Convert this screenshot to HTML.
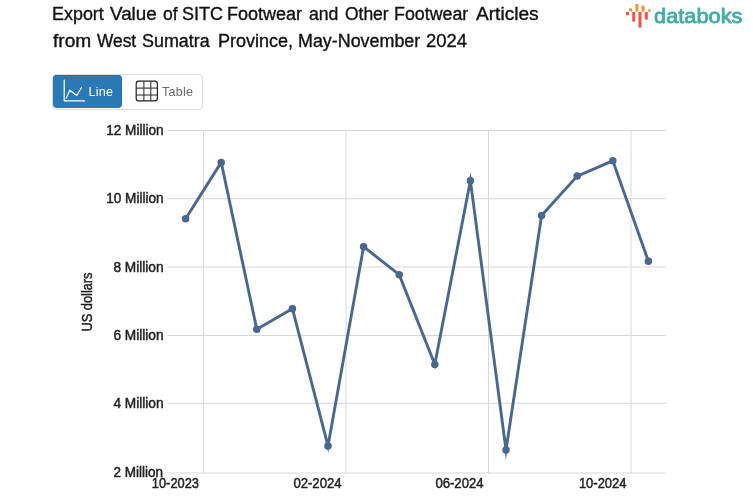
<!DOCTYPE html>
<html lang="en">
<head>
<meta charset="utf-8">
<title>Export Value of SITC Footwear and Other Footwear Articles from West Sumatra Province</title>
<style>
  html,body{margin:0;padding:0;background:#fff;}
  body{width:753px;height:498px;position:relative;overflow:hidden;font-family:"Liberation Sans",Arial,sans-serif;color:#111;}
  .title{position:absolute;left:52px;top:1px;width:500px;height:54px;margin:0;font-weight:400;font-size:18px;line-height:27px;white-space:nowrap;color:#111;}
  .title .w{position:absolute;display:block;transform-origin:0 50%;-webkit-text-stroke:0.35px #111;}
  .logo{position:absolute;left:620px;top:0;width:133px;height:34px;}
  .tabs{position:absolute;left:52px;top:74px;width:151px;height:36px;box-sizing:border-box;border:1px solid #ddd;border-radius:4px;background:#fff;}
  .tab{position:absolute;top:0;height:33px;font-size:12.6px;line-height:35px;letter-spacing:0.2px;}
  .tab svg{position:absolute;left:0;top:0;}
  .tab span{position:absolute;top:0;white-space:nowrap;}
  .tab.active{left:0;width:69px;background:#2979b5;color:#fff;border-radius:4px;box-shadow:inset 0 1px 0 #1f70b0;}
  .tab.table{left:69px;width:79px;color:#6b6b6b;}
  .chart{position:absolute;left:0;top:0;width:753px;height:498px;}
</style>
</head>
<body>
<h1 class="title"><span class="w" style="left:0.00px;top:0px;transform:scaleX(0.9962)">Export</span> <span class="w" style="left:57.50px;top:0px;transform:scaleX(1.0447)">Value</span> <span class="w" style="left:110.51px;top:0px;transform:scaleX(0.9736)">of</span> <span class="w" style="left:130.49px;top:0px;transform:scaleX(1.0007)">SITC</span> <span class="w" style="left:175.00px;top:0px;transform:scaleX(1.0000)">Footwear</span> <span class="w" style="left:256.50px;top:0px;transform:scaleX(0.9797)">and</span> <span class="w" style="left:293.01px;top:0px;transform:scaleX(0.9691)">Other</span> <span class="w" style="left:342.01px;top:0px;transform:scaleX(0.9892)">Footwear</span> <span class="w" style="left:424.03px;top:0px;transform:scaleX(1.0611)">Articles</span>
<span class="w" style="left:1.03px;top:27px;transform:scaleX(1.0614)">from</span> <span class="w" style="left:44.51px;top:27px;transform:scaleX(0.9612)">West</span> <span class="w" style="left:89.99px;top:27px;transform:scaleX(0.9943)">Sumatra</span> <span class="w" style="left:165.50px;top:27px;transform:scaleX(1.0001)">Province,</span> <span class="w" style="left:246.01px;top:27px;transform:scaleX(0.9935)">May-November</span> <span class="w" style="left:373.97px;top:27px;transform:scaleX(1.0256)">2024</span>
</h1>

<svg class="logo" viewBox="0 0 133 34">
  <g>
    <rect x="6" y="12" width="3" height="3.2" fill="#e8584f"/>
    <rect x="9.2" y="8.4" width="3" height="3.2" fill="#ef9438"/>
    <rect x="12.2" y="12" width="3" height="9.6" fill="#e8584f"/>
    <rect x="15.4" y="4" width="3" height="7.6" fill="#ef9438"/>
    <rect x="18.4" y="12" width="3.1" height="15.6" fill="#e8584f"/>
    <rect x="21.5" y="5.6" width="3.1" height="6" fill="#ef9438"/>
    <rect x="24.7" y="12" width="3.1" height="7.6" fill="#e8584f"/>
    <rect x="27.9" y="9.5" width="3" height="2.1" fill="#ef9438"/>
  </g>
  <text x="34" y="22.8" font-family="Liberation Sans, Arial, sans-serif" font-weight="400" font-size="20.3" fill="#43aaa7" stroke="#43aaa7" stroke-width="0.8" stroke-linejoin="round" textLength="88.5" lengthAdjust="spacingAndGlyphs">databoks</text>
</svg>

<div class="tabs">
  <div class="tab active">
    <svg width="69" height="33" viewBox="53 75 69 33" fill="none" stroke="#fff" stroke-width="1.2" stroke-linecap="round" stroke-linejoin="round"><path d="M64.2 80.2V100.8H84.6"/><path d="M66.1 98.2L69.8 90.2L76.7 95.5L81.5 87.5"/></svg>
    <span style="left:35.6px">Line</span>
  </div>
  <div class="tab table">
    <svg width="79" height="33" viewBox="122 75 79 33" fill="none" stroke="#222" stroke-width="1.2"><rect x="136.2" y="81.2" width="21.2" height="19.6" rx="2.6"/><path d="M136.2 88.1H157.4M136.2 95H157.4M143.9 81.2V100.8M150.8 81.2V100.8" stroke-width="1"/></svg>
    <span style="left:40px">Table</span>
  </div>
</div>

<svg class="chart" viewBox="0 0 753 498">
  <g stroke="#d8d8d8" stroke-width="1" fill="none">
    <path d="M167.5 130.5H666M167.5 198.7H666M167.5 267H666M167.5 335.5H666M167.5 403.25H666M167.5 473H666"/>
    <path d="M203.5 130V473.5M346 130V473.5M488.5 130V473.5M631 130V473.5"/>
  </g>
  <g font-family="Liberation Sans, Arial, sans-serif" font-size="13.8" fill="#222" stroke="#222" stroke-width="0.45" text-anchor="end">
    <text x="163.6" y="135" textLength="57.4" lengthAdjust="spacingAndGlyphs">12 Million</text>
    <text x="163.6" y="203" textLength="57.4" lengthAdjust="spacingAndGlyphs">10 Million</text>
    <text x="163.6" y="272" textLength="50.2" lengthAdjust="spacingAndGlyphs">8 Million</text>
    <text x="163.6" y="340" textLength="50.2" lengthAdjust="spacingAndGlyphs">6 Million</text>
    <text x="163.6" y="408.4" textLength="50.2" lengthAdjust="spacingAndGlyphs">4 Million</text>
    <text x="163" y="477" textLength="49.6" lengthAdjust="spacingAndGlyphs">2 Million</text>
    <text x="199" y="488.1" textLength="47.2" lengthAdjust="spacingAndGlyphs">10-2023</text>
    <text x="341.6" y="488.1" textLength="48.2" lengthAdjust="spacingAndGlyphs">02-2024</text>
    <text x="483.6" y="488.1" textLength="48.2" lengthAdjust="spacingAndGlyphs">06-2024</text>
    <text x="626.5" y="488.1" textLength="47.6" lengthAdjust="spacingAndGlyphs">10-2024</text>
  </g>
  <text transform="translate(91.9 302) rotate(-90)" text-anchor="middle" font-family="Liberation Sans, Arial, sans-serif" font-size="13.8" fill="#222" stroke="#222" stroke-width="0.45" textLength="59" lengthAdjust="spacingAndGlyphs">US dollars</text>
  <polyline fill="none" stroke="#4a688d" stroke-width="2.9" stroke-linejoin="miter" stroke-miterlimit="10" points="185.6,218.7 221.2,162.4 256.8,329.2 292.4,308.7 328.0,445.9 363.6,246.7 399.2,274.7 434.8,364.4 470.4,180.7 506.0,449.9 541.6,215.5 577.2,176.1 612.8,160.8 648.4,261.2"/>
  <g fill="#4a688d">
    <circle cx="185.6" cy="218.7" r="3.75"/><circle cx="221.2" cy="162.4" r="3.75"/><circle cx="256.8" cy="329.2" r="3.75"/><circle cx="292.4" cy="308.7" r="3.75"/><circle cx="328.0" cy="445.9" r="3.75"/><circle cx="363.6" cy="246.7" r="3.75"/><circle cx="399.2" cy="274.7" r="3.75"/><circle cx="434.8" cy="364.4" r="3.75"/><circle cx="470.4" cy="180.7" r="3.75"/><circle cx="506.0" cy="449.9" r="3.75"/><circle cx="541.6" cy="215.5" r="3.75"/><circle cx="577.2" cy="176.1" r="3.75"/><circle cx="612.8" cy="160.8" r="3.75"/><circle cx="648.4" cy="261.2" r="3.75"/>
  </g>
</svg>
</body>
</html>
